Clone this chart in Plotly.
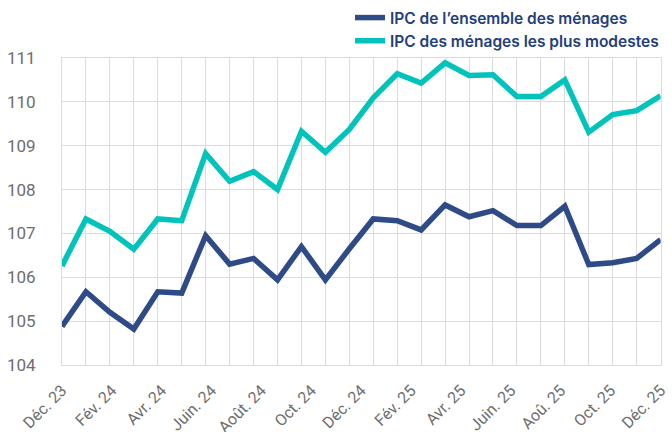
import plotly.graph_objects as go

# Tick labels (every two months)
tick_labels = ["Déc. 23", "Fév. 24", "Avr. 24", "Juin. 24", "Août. 24", "Oct. 24",
               "Déc. 24", "Fév. 25", "Avr. 25", "Juin. 25", "Aoû. 25", "Oct. 25", "Déc. 25"]

# Series values (one point per vertical gridline)
ipc_ensemble = [104.88, 105.67, 105.20, 104.82, 105.67, 105.64, 106.95, 106.30, 106.43,
                105.94, 106.70, 105.94, 106.65, 107.33, 107.29, 107.08, 107.65, 107.38,
                107.52, 107.18, 107.18, 107.62, 106.29, 106.33, 106.43, 106.86]
ipc_modestes = [106.26, 107.33, 107.05, 106.64, 107.33, 107.29, 108.82, 108.19, 108.41,
                108.00, 109.33, 108.85, 109.37, 110.09, 110.64, 110.43, 110.89, 110.60,
                110.62, 110.12, 110.12, 110.50, 109.31, 109.71, 109.80, 110.14]

names = ["IPC de l’ensemble des ménages", "IPC des ménages les plus modestes"]
colors = ["#2E4A87", "#00C4BC"]

x_pts = list(range(len(ipc_ensemble)))
label_pos = [i * 2 for i in range(len(tick_labels))]

fig = go.Figure()
for vals, name, col in [(ipc_ensemble, names[0], colors[0]), (ipc_modestes, names[1], colors[1])]:
    fig.add_trace(go.Scatter(x=x_pts, y=vals, mode="lines", name=name,
                             line=dict(color=col, width=5.5), xaxis="x", yaxis="y"))

# invisible trace for label axis
fig.add_trace(go.Scatter(x=[label_pos[0], label_pos[-1]], y=[104, 104], mode="lines",
                         line=dict(width=0), showlegend=False, hoverinfo="skip",
                         xaxis="x2", yaxis="y"))

grid = "#DCDCDC"
fig.update_layout(
    width=672, height=432,
    margin=dict(l=62, r=4, t=58, b=67, autoexpand=False),
    paper_bgcolor="white", plot_bgcolor="white",
    showlegend=True,
    legend=dict(x=350 / 672, y=1 - 1 / 432, xref="container", yref="container",
                xanchor="left", yanchor="top",
                orientation="v", bgcolor="rgba(0,0,0,0)",
                font=dict(family="Inter", size=15.5, color="#233E7A", weight=600),
                tracegroupgap=0, itemwidth=30),
    xaxis=dict(domain=[0, 598.6 / 606.0], range=[0, len(x_pts) - 1], dtick=1, tick0=0,
               showgrid=True, gridcolor=grid,
               gridwidth=1, showticklabels=False, zeroline=False, automargin=False,
               showline=True, linecolor=grid, mirror=True),
    xaxis2=dict(domain=[0, 1], overlaying="x", anchor="y", side="bottom",
                range=[label_pos[0], label_pos[-1]],
                tickmode="array", tickvals=label_pos, ticktext=tick_labels, tickangle=-45,
                showgrid=False, zeroline=False, showline=False, automargin=False,
                ticklabelstandoff=12,
                tickfont=dict(family="Roboto", size=16, color="#6E6E6E")),
    yaxis=dict(range=[104, 111], dtick=1, showgrid=True, gridcolor=grid, gridwidth=1,
               zeroline=False, showline=True, linecolor=grid, mirror=True, automargin=False,
               ticklabelstandoff=22,
               tickfont=dict(family="Roboto", size=17, color="#6E6E6E")),
)

fig.write_html("out.html", config={"displayModeBar": False},
               post_script="document.body.style.margin='0';")
